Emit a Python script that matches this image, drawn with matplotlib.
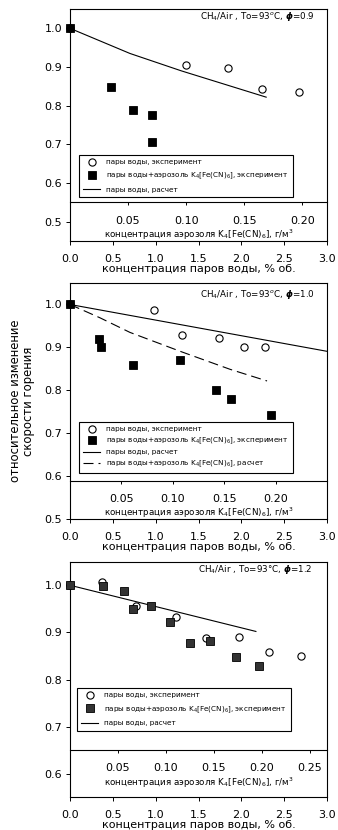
import numpy as np
import matplotlib
matplotlib.use("Agg")
import matplotlib.pyplot as plt

plt.rcParams['font.family'] = ['DejaVu Sans']
plt.rcParams['mathtext.fontset'] = 'dejavusans'

# ---------------- data ----------------
# panel 1: phi = 0.9
p1_water_x = [0.0, 1.35, 1.84, 2.24, 2.67]
p1_water_y = [1.0, 0.906, 0.898, 0.843, 0.835]
p1_aer_x = [0.0, 0.48, 0.74, 0.96, 0.96]
p1_aer_y = [1.0, 0.848, 0.790, 0.777, 0.705]
p1_calc_x = [0.0, 0.70, 1.30, 2.29]
p1_calc_y = [1.0, 0.935, 0.890, 0.822]

# panel 2: phi = 1.0
p2_water_x = [0.0, 0.985, 1.31, 1.74, 2.03, 2.28]
p2_water_y = [1.0, 0.988, 0.929, 0.921, 0.901, 0.901]
p2_aer_x = [0.0, 0.335, 0.36, 0.73, 1.285, 1.70, 1.88, 2.35]
p2_aer_y = [1.0, 0.920, 0.900, 0.860, 0.870, 0.802, 0.781, 0.742]
p2_calc_x = [0.0, 3.0]
p2_calc_y = [1.0, 0.891]
p2_aer_calc_x = [0.0, 0.35, 0.70, 1.30, 1.87, 2.30]
p2_aer_calc_y = [1.0, 0.969, 0.935, 0.890, 0.849, 0.822]

# panel 3: phi = 1.2
p3_water_x = [0.0, 0.378, 0.77, 1.24, 1.585, 1.97, 2.32, 2.70]
p3_water_y = [1.0, 1.006, 0.957, 0.933, 0.889, 0.890, 0.859, 0.849]
p3_aer_x = [0.0, 0.39, 0.63, 0.74, 0.94, 1.17, 1.405, 1.64, 1.94, 2.21]
p3_aer_y = [1.0, 0.998, 0.987, 0.950, 0.957, 0.923, 0.877, 0.881, 0.847, 0.829]
p3_calc_x = [0.0, 2.17]
p3_calc_y = [1.0, 0.902]

x_ticks = [0.0, 0.5, 1.0, 1.5, 2.0, 2.5, 3.0]
aer_ticks_12 = [0.05, 0.10, 0.15, 0.20]
aer_ticks_3 = [0.05, 0.10, 0.15, 0.20, 0.25]

lab_water = "пары воды, эксперимент"
lab_aer = "пары воды+аэрозоль K$_4$[Fe(CN)$_6$], эксперимент"
lab_calc = "пары воды, расчет"
lab_aer_calc = "пары воды+аэрозоль K$_4$[Fe(CN)$_6$], расчет"
xlabel = "концентрация паров воды, % об."
seclabel = "концентрация аэрозоля K$_4$[Fe(CN)$_6$], г/м$^3$"
ylabel = "относительное изменение\nскорости горения"

W, H = 338, 830
fig = plt.figure(figsize=(W / 100, H / 100), dpi=100)


def rect(top, bottom, left=70, right=327):
    return [left / W, (H - bottom) / H, (right - left) / W, (bottom - top) / H]


def setup(ax, ylim, yticks, sec_level, factor, sec_ticks, note, note_xy):
    ax.set_xlim(0, 3)
    ax.set_ylim(*ylim)
    ax.set_xticks(x_ticks)
    ax.set_yticks(yticks)
    ax.xaxis.set_major_formatter('{x:.1f}')
    ax.yaxis.set_major_formatter('{x:.1f}')
    ax.tick_params(axis='x', direction='out', length=3, width=0.7, labelsize=8, pad=6)
    ax.tick_params(axis='y', direction='out', length=3, width=0.7, labelsize=8, pad=2.5)
    for s in ax.spines.values():
        s.set_linewidth(0.8)
    ax.set_xlabel(xlabel, fontsize=8, labelpad=0)
    pos = (sec_level - ylim[0]) / (ylim[1] - ylim[0])
    sec = ax.secondary_xaxis(pos, functions=(lambda x: x / factor, lambda a: a * factor))
    sec.set_xticks(sec_ticks)
    sec.xaxis.set_major_formatter('{x:.2f}')
    sec.tick_params(direction='out', length=2.5, width=0.7, labelsize=8, pad=7)
    for s in sec.spines.values():
        s.set_linewidth(0.8)
    sec.set_xlabel(seclabel, fontsize=6.3, labelpad=1.5)
    ax.text(note_xy[0], note_xy[1], note, transform=ax.transAxes, ha='right', va='center',
            fontsize=6.3)


def legend(ax, anchor, spacing):
    lg = ax.legend(loc='upper left', bbox_to_anchor=anchor, borderaxespad=0, fontsize=5.2,
                   frameon=True, fancybox=False, edgecolor='black', framealpha=1,
                   handlelength=2.3, handletextpad=0.8, labelspacing=spacing,
                   borderpad=0.6)
    lg.get_frame().set_linewidth(0.8)
    lg.set_zorder(5)
    return lg


msz = 5.2
# -------- panel 1 --------
ax1 = fig.add_axes(rect(9, 241))
ax1.plot(p1_water_x, p1_water_y, 'o', mfc='white', mec='black', mew=0.8, ms=msz,
         clip_on=False, zorder=3, label=lab_water)
ax1.plot(p1_aer_x, p1_aer_y, 's', mfc='black', mec='black', mew=0.6, ms=msz,
         clip_on=False, zorder=4, label=lab_aer)
ax1.plot(p1_calc_x, p1_calc_y, '-', color='black', lw=0.8, zorder=2, label=lab_calc)
setup(ax1, (0.45, 1.05), [0.5, 0.6, 0.7, 0.8, 0.9, 1.0], 0.55, 13.55, aer_ticks_12,
      r"CH$_4$/Air , To=93$^o$C, $\boldsymbol{\phi}$=0.9", (0.953, 0.966))
legend(ax1, (0.035, 0.371), 0.75)

# -------- panel 2 --------
ax2 = fig.add_axes(rect(283, 519.3))
ax2.plot(p2_water_x, p2_water_y, 'o', mfc='white', mec='black', mew=0.8, ms=msz,
         clip_on=False, zorder=3, label=lab_water)
ax2.plot(p2_aer_x, p2_aer_y, 's', mfc='black', mec='black', mew=0.6, ms=msz,
         clip_on=False, zorder=4, label=lab_aer)
ax2.plot(p2_calc_x, p2_calc_y, '-', color='black', lw=0.8, zorder=2, label=lab_calc)
ax2.plot(p2_aer_calc_x, p2_aer_calc_y, '--', color='black', lw=0.8, dashes=(9, 4.5),
         zorder=2, label=lab_aer_calc)
setup(ax2, (0.5, 1.05), [0.5, 0.6, 0.7, 0.8, 0.9, 1.0], 0.59, 12.0, aer_ticks_12,
      r"CH$_4$/Air , To=93$^o$C, $\boldsymbol{\phi}$=1.0", (0.953, 0.953))
legend(ax2, (0.035, 0.413), 0.45)
ax2.set_ylabel(ylabel, fontsize=8.4, linespacing=1.05)
ax2.yaxis.set_label_coords(-0.135, 0.5)

# -------- panel 3 --------
ax3 = fig.add_axes(rect(561.7, 797.3))
ax3.plot(p3_water_x, p3_water_y, 'o', mfc='white', mec='black', mew=0.8, ms=msz,
         clip_on=False, zorder=3, label=lab_water)
ax3.plot(p3_aer_x, p3_aer_y, 's', mfc='#333333', mec='black', mew=0.6, ms=msz,
         clip_on=False, zorder=4, label=lab_aer)
ax3.plot(p3_calc_x, p3_calc_y, '-', color='black', lw=0.8, zorder=2, label=lab_calc)
setup(ax3, (0.55, 1.05), [0.6, 0.7, 0.8, 0.9, 1.0], 0.65, 11.2, aer_ticks_3,
      "CH$_4$/Air , To=93°C, $\\boldsymbol{\\phi}$=1.2", (0.942, 0.965))
legend(ax3, (0.027, 0.464), 0.8)

fig.savefig("out.png", dpi=100)
